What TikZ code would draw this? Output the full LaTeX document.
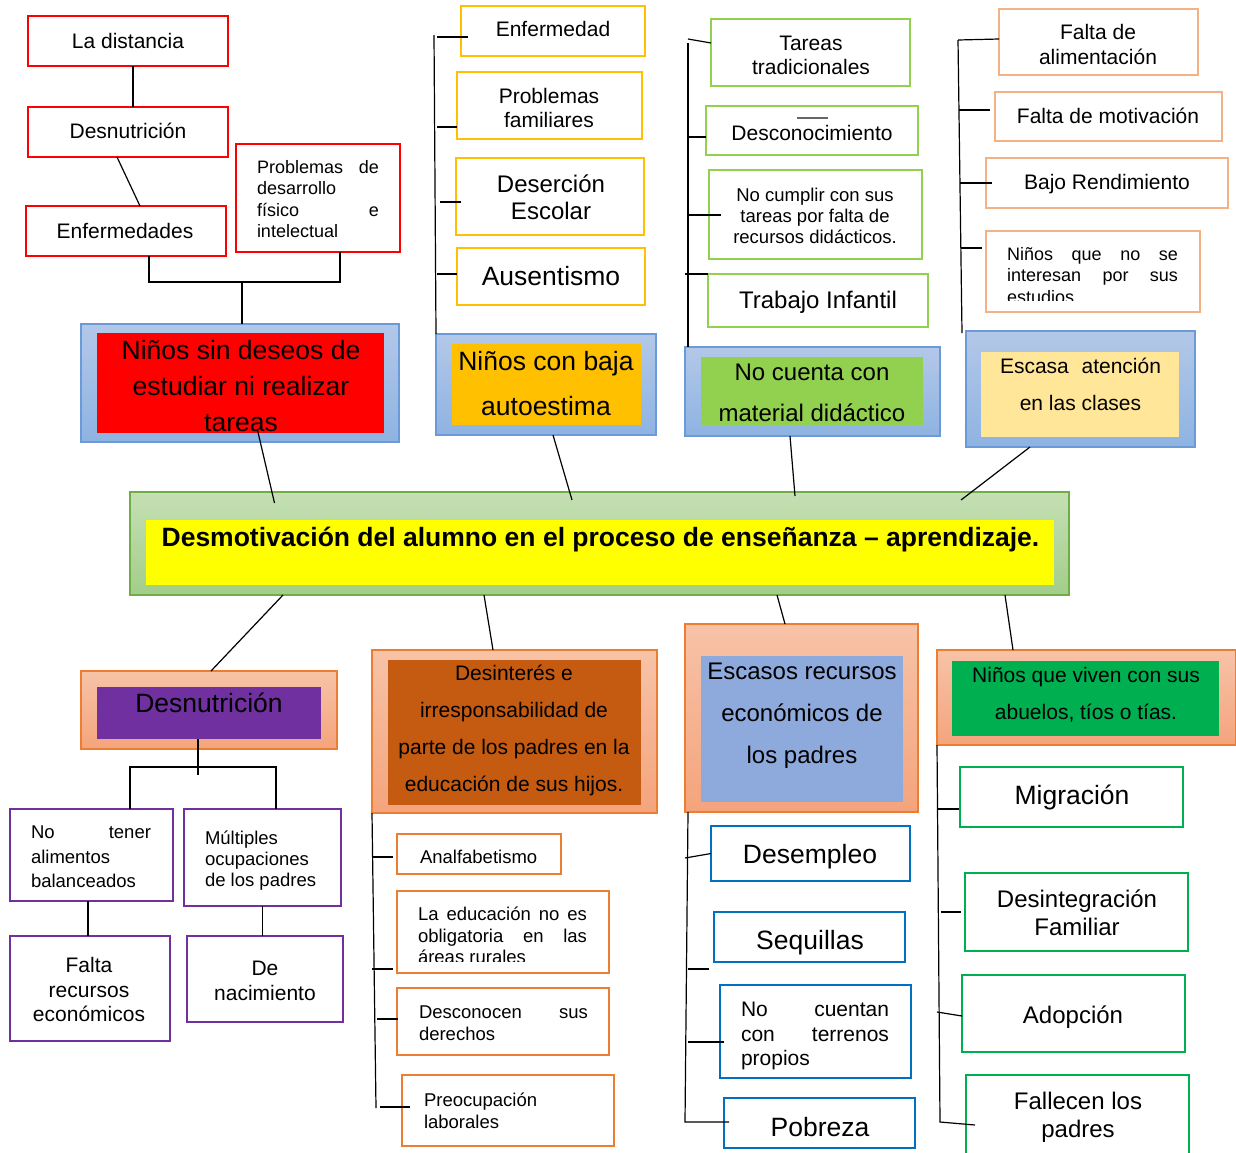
\documentclass[tikz,border=0pt]{standalone}
\usepackage{fontspec}
\setmainfont{Liberation Sans}
\usetikzlibrary{calc}
\definecolor{cRed}{HTML}{FF0000}
\definecolor{cYel}{HTML}{FFC000}
\definecolor{cLG}{HTML}{92D050}
\definecolor{cPeach}{HTML}{F4B183}
\definecolor{cLtYel}{HTML}{FFE699}
\definecolor{cBlueTop}{HTML}{B3C8E8}
\definecolor{cBlueBot}{HTML}{8EB3E2}
\definecolor{cBlueBd}{HTML}{6A9BD8}
\definecolor{cGrTop}{HTML}{C5E0B4}
\definecolor{cGrBot}{HTML}{A3CD88}
\definecolor{cGrBd}{HTML}{70AD47}
\definecolor{cPkTop}{HTML}{F7C3A8}
\definecolor{cPkBot}{HTML}{F4A47C}
\definecolor{cOr}{HTML}{ED7D31}
\definecolor{cPur}{HTML}{7030A0}
\definecolor{cBrown}{HTML}{C55A11}
\definecolor{cSlate}{HTML}{8EA9DB}
\definecolor{cGreen}{HTML}{00B050}
\definecolor{cBlue}{HTML}{0070C0}
\definecolor{cYellow}{HTML}{FFFF00}
\newcommand{\bx}[6]{\node[#2, minimum width={(#5)-(#3)}, minimum height={(#6)-(#4)}] (#1) at ({((#3)+(#5))/2},{((#4)+(#6))/2}) {};}
% #4 = visual centre of the LAST line
\newcommand{\tx}[7][]{\node[txt,#1,font=\fontsize{#5}{#6}\selectfont] (#2) at ({#3},{(#4)+0.36*(#5)}) {#7};}
\newcommand{\jline}[2]{\makebox[#1][s]{#2}}
\tikzset{
  base/.style={rectangle, inner sep=0pt, outer sep=0pt},
  cbox/.style={base, draw, line width=2.8pt, fill=white},
  redbox/.style={cbox, draw=cRed},
  yelbox/.style={cbox, draw=cYel},
  lgbox/.style={cbox, draw=cLG},
  pchbox/.style={cbox, draw=cPeach},
  purbox/.style={cbox, draw=cPur},
  orbox/.style={cbox, draw=cOr},
  bluebox/.style={cbox, draw=cBlue},
  grnbox/.style={cbox, draw=cGreen},
  outblue/.style={base, draw=cBlueBd, line width=1.6pt, top color=cBlueTop, bottom color=cBlueBot},
  outpink/.style={base, draw=cOr, line width=1.6pt, top color=cPkTop, bottom color=cPkBot},
  outgreen/.style={base, draw=cGrBd, line width=1.6pt, top color=cGrTop, bottom color=cGrBot},
  inbox/.style={base, draw=none},
  conn/.style={line width=1.2pt, black},
  txt/.style={anchor=base, align=center, inner sep=0pt, outer sep=0pt, text=black}
}
\begin{document}
\begin{tikzpicture}[x=1pt,y=-1pt]
\clip (0,0) rectangle (1236,1152);
\fill[white] (0,0) rectangle (1236,1152);
% ---------- boxes: top-left group
\bx{dist}{redbox}{28}{16}{228}{66}
\bx{desnA}{redbox}{28}{107}{228}{157}
\bx{enfA}{redbox}{26}{206}{226}{256}
\bx{probA}{redbox}{236}{144}{400}{252}
\bx{redO}{outblue}{81}{324}{399}{442}
\bx{redI}{inbox,fill=cRed}{97}{333}{384}{433}
% yellow group
\bx{enfB}{yelbox}{461}{6}{645}{56}
\bx{pfam}{yelbox}{457}{72}{642}{139}
\bx{deser}{yelbox}{456}{158}{644}{235}
\bx{ausen}{yelbox}{457}{248}{645}{305}
\bx{yelO}{outblue}{436}{334}{656}{435}
\bx{yelI}{inbox,fill=cYel}{452}{344}{641}{425}
% light green group
\bx{tarea}{lgbox}{711}{19}{910}{86}
\bx{descon}{lgbox}{706}{106}{918}{155}
\bx{nocum}{lgbox}{709}{170}{922}{259}
\bx{trab}{lgbox}{708}{274}{928}{327}
\bx{grnO}{outblue}{685}{347}{940}{436}
\bx{grnI}{inbox,fill=cLG}{701}{357}{923}{425}
% peach group
\bx{falim}{pchbox}{999}{9}{1198}{75}
\bx{fmot}{pchbox}{995}{92}{1222}{141}
\bx{bajo}{pchbox}{986}{158}{1228}{208}
\bx{ninq}{pchbox}{986}{231}{1200}{312}
\bx{escO}{outblue}{966}{331}{1195}{447}
\bx{escI}{inbox,fill=cLtYel}{981}{352}{1179}{437}
% central
\bx{cenO}{outgreen}{130}{492}{1069}{595}
\bx{cenI}{inbox,fill=cYellow}{146}{520}{1054}{585}
% bottom: desnutricion
\bx{desnO}{outpink}{81}{671}{337}{749}
\bx{desnI}{inbox,fill=cPur}{97}{687}{321}{739}
\bx{notener}{purbox}{10}{809}{173}{901}
\bx{multi}{purbox}{184}{809}{341}{906}
\bx{falta}{purbox}{10}{936}{170}{1041}
\bx{denac}{purbox}{187}{936}{343}{1022}
% desinteres
\bx{desiO}{outpink}{372}{650}{657}{813}
\bx{desiI}{inbox,fill=cBrown}{388}{660}{641}{805}
\bx{analf}{orbox}{397}{834}{561}{874}
\bx{laedu}{orbox}{397}{891}{609}{973}
\bx{desco}{orbox}{397}{988}{609}{1055}
\bx{preoc}{orbox}{402}{1075}{614}{1146}
% escasos recursos
\bx{ecoO}{outpink}{685}{624}{918}{812}
\bx{ecoI}{inbox,fill=cSlate}{701}{656}{903}{802}
\bx{desemp}{bluebox}{711}{826}{910}{881}
\bx{sequi}{bluebox}{714}{912}{905}{962}
\bx{nocuen}{bluebox}{720}{985}{911}{1078}
\bx{pobreza}{bluebox}{724}{1098}{915}{1148}
% viven con abuelos
\bx{vivO}{outpink}{937}{650}{1236}{745}
\bx{vivI}{inbox,fill=cGreen}{952}{661}{1219}{736}
\bx{migr}{grnbox}{960}{767}{1183}{827}
\bx{desint}{grnbox}{965}{873}{1188}{951}
\bx{adop}{grnbox}{962}{975}{1185}{1052}
\bx{fallec}{grnbox}{966}{1075}{1189}{1170}
% stray mark
\draw[line width=1.8pt, black!60] ([xshift=-15pt,yshift=-12pt]descon.north) -- ([xshift=16pt,yshift=-12pt]descon.north);
% ---------- connectors
% top-left
\draw[conn] ([xshift=5pt]dist.south) -- ([xshift=5pt]desnA.north);
\draw[conn] ([xshift=-11pt]desnA.south) -- ([xshift=14pt]enfA.north);
\coordinate (jA) at (242,282);
\draw[conn] ([xshift=23pt]enfA.south) |- (jA) -| ([xshift=22pt]probA.south);
\draw[conn] (jA) -- (jA |- redO.north);
\draw[conn] ([xshift=17pt,yshift=3pt]redI.south) -- ([xshift=-325pt,yshift=-11pt]cenO.north);
% yellow
\coordinate (yA) at (434,35);
\draw[conn] (yA) -- (yelO.north west);
\coordinate (y1) at (437,37);
\draw[conn] (y1) -- ([xshift=7pt]y1 -| enfB.west);
\coordinate (y2) at (437,127);
\draw[conn] (y2) -- (y2 -| pfam.west);
\coordinate (y3) at (440,202);
\draw[conn] (y3) -- ([xshift=5pt]y3 -| deser.west);
\coordinate (y4) at (437,274);
\draw[conn] (y4) -- (y4 -| ausen.west);
\draw[conn] ([xshift=7pt]yelO.south) -- ([xshift=-27.5pt,yshift=-8pt]cenO.north);
% light green
\coordinate (gA) at (688,43);
\draw[conn] (gA) -- ([xshift=3pt]grnO.north west);
\coordinate (g1) at (688,39);
\draw[conn] (g1) -- ([yshift=9.5pt]tarea.west);
\coordinate (g2) at (688,137);
\draw[conn] (g2) -- (g2 -| descon.west);
\coordinate (g3) at (688,215);
\draw[conn] (g3) -- ([xshift=12pt]g3 -| nocum.west);
\coordinate (g4) at (685,274);
\draw[conn] (g4) -- (g4 -| trab.west);
\draw[conn] ([xshift=-22.5pt]grnO.south) -- ([xshift=195.5pt,yshift=-4pt]cenO.north);
% peach
\coordinate (pA) at (958,40);
\draw[conn] (pA) -- ([xshift=-4pt,yshift=-2pt]escO.north west);
\draw[conn] (pA) -- ([yshift=3pt]falim.west);
\coordinate (p2) at (959,110);
\draw[conn] (p2) -- ([xshift=-5pt]p2 -| fmot.west);
\coordinate (p3) at (960,183);
\draw[conn] (p3) -- ([xshift=6pt]p3 -| bajo.west);
\coordinate (p4) at (961,248);
\draw[conn] (p4) -- ([xshift=-4pt]p4 -| ninq.west);
\draw[conn] ([xshift=-50.5pt]escO.south) -- ([xshift=361.5pt,yshift=-8pt]cenO.north);
% central to bottom
\draw[conn] ([xshift=-316.5pt]cenO.south) -- ([xshift=2pt]desnO.north);
\draw[conn] ([xshift=-115.5pt]cenO.south) -- ([xshift=-21.5pt]desiO.north);
\draw[conn] ([xshift=177.5pt]cenO.south) -- ([xshift=-16.5pt]ecoO.north);
\draw[conn] ([xshift=405.5pt]cenO.south) -- ([xshift=-73.5pt]vivO.north);
% desnutricion
\coordinate (jB) at (198,767);
\draw[conn] ([xshift=-11pt]desnI.south) -- ([yshift=-8pt]jB);
\draw[conn] ([xshift=38.5pt]notener.north) |- (jB) -| ([xshift=13.5pt]multi.north);
\draw[conn] ([xshift=-3.5pt]notener.south) -- ([xshift=-3.5pt]notener.south |- falta.north);
\draw[conn] (multi.south) -- (multi.south |- denac.north);
% desinteres
\coordinate (dA) at (376,1108);
\draw[conn] (desiO.south west) -- (dA);
\coordinate (d1) at (372,857);
\draw[conn] (d1) -- ([xshift=-4pt]d1 -| analf.west);
\coordinate (d2) at (372,969);
\draw[conn] (d2) -- ([xshift=-4pt]d2 -| laedu.west);
\coordinate (d3) at (377,1019);
\draw[conn] (d3) -- ([xshift=1pt]d3 -| desco.west);
\coordinate (d4) at (380,1107);
\draw[conn] (d4) -- ([xshift=8pt]d4 -| preoc.west);
% escasos
\coordinate (eA) at (685,1122);
\draw[conn] ([xshift=3pt]ecoO.south west) -- (eA) -- ([xshift=5pt]eA -| pobreza.west);
\coordinate (e1) at (685,858);
\draw[conn] (e1) -- (desemp.west);
\coordinate (e2) at (688,969);
\draw[conn] (e2) -- ([xshift=-5pt]e2 -| sequi.west);
\coordinate (e3) at (688,1042);
\draw[conn] (e3) -- ([xshift=4pt]e3 -| nocuen.west);
% viven
\coordinate (vA) at (940,1122);
\draw[conn] (vivO.south west) -- (vA) -- ([xshift=9pt,yshift=-3pt]vA -| fallec.west);
\coordinate (v1) at (937,809);
\draw[conn] (v1) -- ([xshift=-1pt]v1 -| migr.west);
\coordinate (v2) at (941,912);
\draw[conn] (v2) -- ([xshift=-4pt]v2 -| desint.west);
\coordinate (v3) at (937,1012);
\draw[conn] (v3) -- ([yshift=-2.5pt]adop.west);
% ---------- texts (y = last line)
\tx{t-dist}{128}{41}{21}{25}{La distancia}
\tx{t-desnA}{128}{131}{21}{25}{Desnutrición}
\tx{t-enfA}{125}{231}{21}{25}{Enfermedades}
\tx[anchor=base west,align=left]{t-probA}{257}{231.5}{18}{21.5}{\jline{122pt}{Problemas de}\\desarrollo\\\jline{122pt}{físico e}\\intelectual}
\tx{t-red}{241}{422}{26.5}{36}{Niños sin deseos de\\estudiar ni realizar\\tareas}
\tx{t-enfB}{553}{29}{21}{25}{Enfermedad}
\tx{t-pfam}{549}{120}{21}{24}{Problemas\\familiares}
\tx{t-deser}{551}{211}{24}{27}{Deserción\\Escolar}
\tx{t-ausen}{551}{276}{26.5}{30}{Ausentismo}
\tx{t-yel}{546}{406}{26.5}{45}{Niños con baja\\autoestima}
\tx{t-tarea}{811}{67}{21}{24}{Tareas\\tradicionales}
\tx{t-descon}{812}{133}{21}{25}{Desconocimiento}
\tx{t-nocum}{815}{237}{18.5}{21}{No cumplir con sus\\tareas por falta de\\recursos didácticos.}
\tx{t-trab}{818}{300}{24}{28}{Trabajo Infantil}
\tx{t-grn}{812}{413}{24}{41}{No cuenta con\\material didáctico}
\tx{t-falim}{1098}{57}{21}{25}{Falta de\\alimentación}
\tx{t-fmot}{1108}{116}{21}{25}{Falta de motivación}
\tx{t-bajo}{1107}{182}{21}{25}{Bajo Rendimiento}
\begin{scope}
\clip (986,231) rectangle (1200,300);
\tx[anchor=base west,align=left]{t-ninq}{1007}{297}{18}{21.5}{\jline{171pt}{Niños que no se}\\\jline{171pt}{interesan por sus}\\estudios.}
\end{scope}
\tx{t-esc}{1080.5}{403}{21}{37}{\jline{161pt}{Escasa atención}\\en las clases}
\tx{t-cen}{600.5}{537}{26.5}{30}{\bfseries Desmotivación del alumno en el proceso de enseñanza – aprendizaje.}
\tx{t-desn}{209}{703}{26.5}{30}{Desnutrición}
\tx[anchor=base west,align=left]{t-notener}{31}{881}{18.5}{24.5}{\jline{120pt}{No tener}\\alimentos\\balanceados}
\tx[anchor=base west,align=left]{t-multi}{205}{880}{18.5}{21}{Múltiples\\ocupaciones\\de los padres}
\tx{t-falta}{89}{1014}{21}{24.5}{Falta\\recursos\\económicos}
\tx{t-denac}{265}{993}{21}{25}{De\\nacimiento}
\tx{t-desi}{514}{784}{21}{37}{Desinterés e\\irresponsabilidad de\\parte de los padres en la\\educación de sus hijos.}
\tx[anchor=base west,align=left]{t-analf}{420}{857}{18.5}{22}{Analfabetismo}
\begin{scope}
\clip (397,891) rectangle (609,961);
\tx[anchor=base west,align=left]{t-laedu}{418}{957}{18.5}{21.5}{\jline{169pt}{La educación no es}\\\jline{169pt}{obligatoria en las}\\áreas rurales}
\end{scope}
\tx[anchor=base west,align=left]{t-desco}{419}{1034}{18.5}{22}{\jline{169pt}{Desconocen sus}\\derechos}
\tx[anchor=base west,align=left]{t-preoc}{424}{1122}{18.5}{22}{Preocupación\\laborales}
\tx{t-eco}{802}{755}{24}{42}{Escasos recursos\\económicos de\\los padres}
\tx{t-desemp}{810}{854}{26.5}{30}{Desempleo}
\tx{t-sequi}{810}{940}{26.5}{30}{Sequillas}
\tx[anchor=base west,align=left]{t-nocuen}{741}{1058}{21}{24.5}{\jline{148pt}{No cuentan}\\\jline{148pt}{con terrenos}\\propios}
\tx{t-pobreza}{820}{1127}{26.5}{30}{Pobreza}
\tx{t-viv}{1086}{712}{21}{37}{Niños que viven con sus\\abuelos, tíos o tías.}
\tx{t-migr}{1072}{795}{26.5}{30}{Migración}
\tx{t-desint}{1077}{927}{24}{28}{Desintegración\\Familiar}
\tx{t-adop}{1073}{1015}{24}{28}{Adopción}
\tx{t-fallec}{1078}{1129}{24}{28}{Fallecen los\\padres}
\end{tikzpicture}
\end{document}
